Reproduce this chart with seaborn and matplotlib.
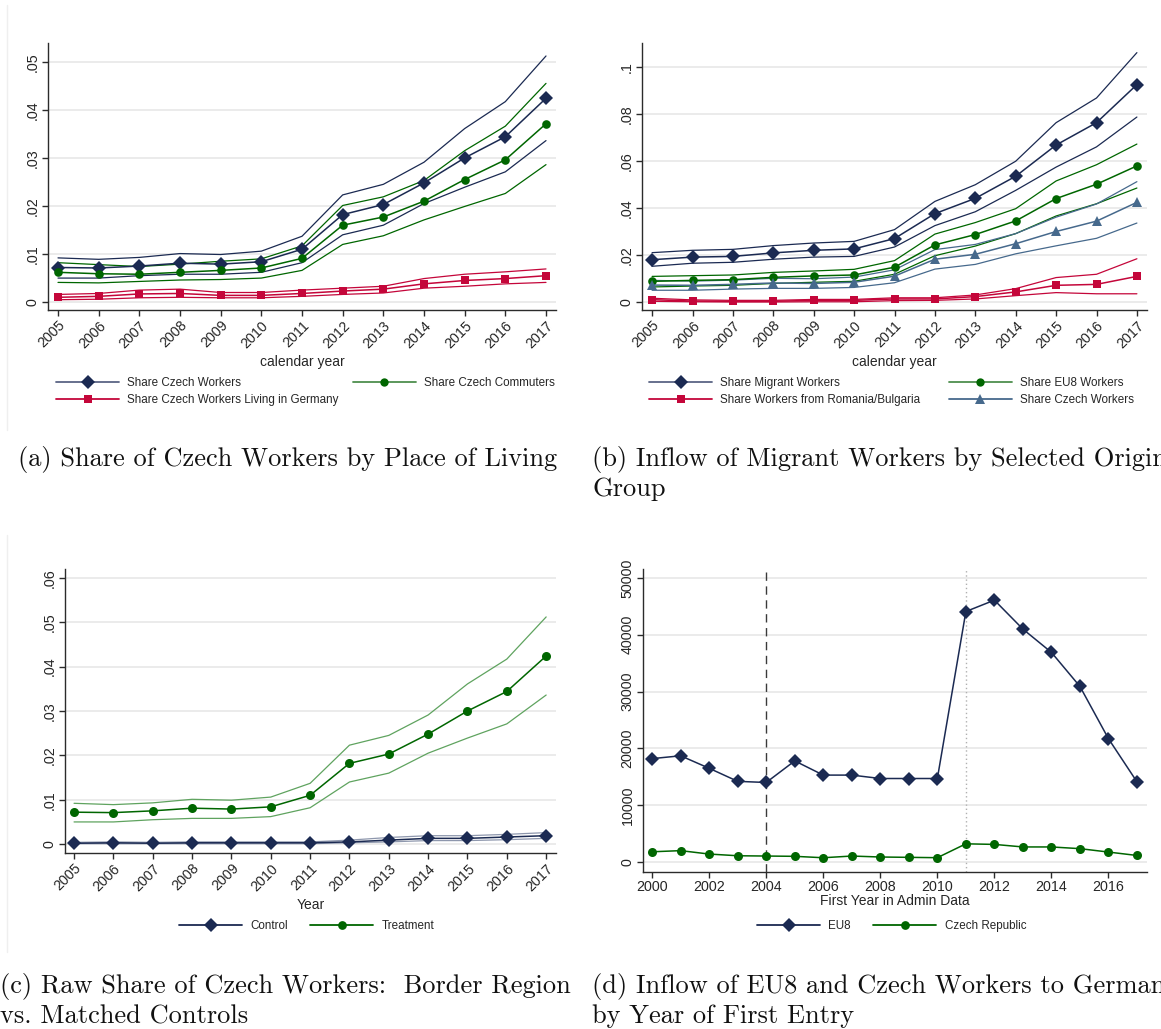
import matplotlib
matplotlib.use("Agg")
import matplotlib.pyplot as plt
from matplotlib.lines import Line2D
from matplotlib.ticker import FixedLocator, FuncFormatter
import seaborn as sns

# ---------------------------------------------------------------- data
years = list(range(2005, 2018))

# (a) shares of Czech workers by place of living, with 95% bands
cz_share = [0.0072, 0.0071, 0.0075, 0.0081, 0.0079, 0.0084, 0.0110, 0.0182, 0.0203, 0.0248, 0.0300, 0.0344, 0.0424]
cz_share_hi = [0.0092, 0.0089, 0.0093, 0.0101, 0.0099, 0.0106, 0.0137, 0.0223, 0.0245, 0.0291, 0.0361, 0.0417, 0.0512]
cz_share_lo = [0.0050, 0.0050, 0.0055, 0.0058, 0.0058, 0.0062, 0.0082, 0.0140, 0.0160, 0.0205, 0.0239, 0.0271, 0.0336]
commuter = [0.0062, 0.0059, 0.0058, 0.0062, 0.0066, 0.0071, 0.0091, 0.0160, 0.0177, 0.0210, 0.0255, 0.0296, 0.0371]
commuter_hi = [0.0082, 0.0078, 0.0074, 0.0079, 0.0085, 0.0090, 0.0117, 0.0201, 0.0219, 0.0253, 0.0315, 0.0366, 0.0455]
commuter_lo = [0.0041, 0.0040, 0.0043, 0.0046, 0.0047, 0.0050, 0.0066, 0.0120, 0.0138, 0.0171, 0.0199, 0.0226, 0.0286]
living_de = [0.0010, 0.0012, 0.0017, 0.0018, 0.0014, 0.0014, 0.0018, 0.0023, 0.0027, 0.0038, 0.0045, 0.0049, 0.0055]
living_de_hi = [0.0016, 0.0018, 0.0025, 0.0027, 0.0020, 0.0020, 0.0025, 0.0029, 0.0033, 0.0049, 0.0058, 0.0063, 0.0069]
living_de_lo = [0.0005, 0.0006, 0.0009, 0.0010, 0.0009, 0.0009, 0.0012, 0.0016, 0.0019, 0.0029, 0.0033, 0.0038, 0.0041]

# (b) inflow of migrant workers by origin group
migrant = [0.0180, 0.0191, 0.0194, 0.0209, 0.0220, 0.0226, 0.0270, 0.0376, 0.0441, 0.0535, 0.0668, 0.0763, 0.0925]
migrant_hi = [0.0210, 0.0220, 0.0224, 0.0240, 0.0251, 0.0258, 0.0308, 0.0428, 0.0499, 0.0599, 0.0763, 0.0868, 0.1061]
migrant_lo = [0.0152, 0.0165, 0.0169, 0.0182, 0.0191, 0.0194, 0.0234, 0.0325, 0.0384, 0.0475, 0.0574, 0.0660, 0.0787]
eu8 = [0.0088, 0.0092, 0.0095, 0.0105, 0.0111, 0.0115, 0.0148, 0.0243, 0.0287, 0.0345, 0.0440, 0.0501, 0.0579]
eu8_hi = [0.0109, 0.0112, 0.0115, 0.0126, 0.0132, 0.0139, 0.0176, 0.0289, 0.0338, 0.0397, 0.0515, 0.0584, 0.0672]
eu8_lo = [0.0064, 0.0068, 0.0071, 0.0079, 0.0084, 0.0088, 0.0118, 0.0197, 0.0238, 0.0291, 0.0366, 0.0418, 0.0485]
robg = [0.0010, 0.0004, 0.0003, 0.0003, 0.0007, 0.0007, 0.0013, 0.0013, 0.0023, 0.0043, 0.0071, 0.0075, 0.0109]
robg_hi = [0.0016, 0.0009, 0.0007, 0.0007, 0.0011, 0.0011, 0.0018, 0.0018, 0.0030, 0.0057, 0.0104, 0.0118, 0.0184]
robg_lo = [0.0003, 0.0001, 0.0000, 0.0000, 0.0001, 0.0001, 0.0006, 0.0007, 0.0013, 0.0027, 0.0040, 0.0035, 0.0035]

# (c) border region (treatment) vs matched controls
treatment = cz_share
treatment_hi = cz_share_hi
treatment_lo = cz_share_lo
control = [0.0002, 0.0003, 0.0002, 0.0003, 0.0003, 0.0003, 0.0003, 0.0005, 0.0009, 0.0013, 0.0013, 0.0016, 0.0019]
control_hi = [0.0004, 0.0005, 0.0004, 0.0005, 0.0005, 0.0005, 0.0005, 0.0009, 0.0015, 0.0019, 0.0019, 0.0022, 0.0026]
control_lo = [0.0001, 0.0001, 0.0001, 0.0001, 0.0001, 0.0001, 0.0001, 0.0003, 0.0005, 0.0008, 0.0008, 0.0010, 0.0013]

# (d) inflow by first year in admin data
entry_years = list(range(2000, 2018))
eu8_inflow = [18200, 18700, 16500, 14200, 14000, 17800, 15300, 15300, 14700, 14700, 14700,
              44100, 46100, 41000, 36900, 30900, 21700, 14100]
cz_inflow = [1800, 2000, 1400, 1100, 1050, 1000, 750, 1050, 880, 820, 760,
             3200, 3100, 2650, 2650, 2350, 1750, 1150]

captions = [
    "(a) Share of Czech Workers by Place of Living",
    "(b) Inflow of Migrant Workers by Selected Origin\nGroup",
    "(c) Raw Share of Czech Workers:  Border Region\nvs. Matched Controls",
    "(d) Inflow of EU8 and Czech Workers to Germany\nby Year of First Entry",
]

# ---------------------------------------------------------------- style
NAVY = "#1b2a52"
GREEN = "#006600"
RED = "#c4063a"
STEEL = "#46698c"
GRID = "#e9e9e9"

sns.set_theme(style="white")
plt.rcParams["font.family"] = ["Liberation Sans", "DejaVu Sans"]

W, H = 1161, 1029
fig = plt.figure(figsize=(W / 100, H / 100), dpi=100)
fig.patch.set_facecolor("white")

TICK_FS = 10.3
LEG_FS = 8.4


def px_axes(left, top, right, bottom):
    return fig.add_axes([left / W, 1 - bottom / H, (right - left) / W, (bottom - top) / H])


def stata_fmt(v, _pos=None):
    if abs(v) < 1e-12:
        return "0"
    s = f"{v:g}"
    return s[1:] if s.startswith("0.") else s


def style_axes(ax, yticks, xticks, xrot=45, yfmt=stata_fmt):
    ax.set_facecolor("white")
    for side in ("top", "right"):
        ax.spines[side].set_visible(False)
    for side in ("left", "bottom"):
        ax.spines[side].set_color("#2b2b2b")
        ax.spines[side].set_linewidth(1.0)
    ax.yaxis.set_major_locator(FixedLocator(yticks))
    ax.yaxis.set_major_formatter(FuncFormatter(yfmt))
    ax.xaxis.set_major_locator(FixedLocator(xticks))
    ax.grid(axis="y", color=GRID, lw=1.3)
    ax.grid(axis="x", visible=False)
    ax.set_axisbelow(True)
    ax.tick_params(axis="both", direction="out", length=4, width=1.0,
                   color="#2b2b2b", labelsize=TICK_FS, pad=2, bottom=True, left=True)
    for lab in ax.get_yticklabels():
        lab.set_rotation(90)
        lab.set_va("center")
    if xrot:
        for lab in ax.get_xticklabels():
            lab.set_rotation(xrot)
            lab.set_ha("right")
            lab.set_rotation_mode("anchor")


def band(ax, x, lo, hi, color, lw=0.9, alpha=1.0):
    sns.lineplot(x=x, y=hi, ax=ax, color=color, lw=lw, alpha=alpha, legend=False)
    sns.lineplot(x=x, y=lo, ax=ax, color=color, lw=lw, alpha=alpha, legend=False)


def series(ax, x, y, color, marker, ms, lw=1.1):
    sns.lineplot(x=x, y=y, ax=ax, color=color, lw=lw, marker=marker, markersize=ms,
                 markeredgewidth=0, legend=False)


def key(color, marker, ms, lcolor=None):
    return Line2D([], [], color=lcolor or color, lw=1.3, marker=marker, markersize=ms,
                  markerfacecolor=color, markeredgewidth=0)


def add_legend(handles, labels, x, y, ncol, colspace):
    fig.legend(handles, labels, loc="center left", bbox_to_anchor=(x / W, 1 - y / H),
               ncol=ncol, frameon=False, fontsize=LEG_FS, handlelength=5.4,
               handletextpad=0.72, columnspacing=colspace, labelspacing=0.45,
               borderpad=0, borderaxespad=0, numpoints=1)


# ---------------------------------------------------------------- (a)
ax = px_axes(48, 43, 556, 310)
band(ax, years, cz_share_lo, cz_share_hi, NAVY)
band(ax, years, commuter_lo, commuter_hi, GREEN)
band(ax, years, living_de_lo, living_de_hi, RED)
series(ax, years, cz_share, NAVY, "D", 7.3)
series(ax, years, commuter, GREEN, "o", 6.2)
series(ax, years, living_de, RED, "s", 5.8)
ax.set_xlim(2004.754, 2017.246)
ax.set_ylim(-0.00164, 0.0539)
style_axes(ax, [0, 0.01, 0.02, 0.03, 0.04, 0.05], years)
ax.set_xlabel("calendar year", fontsize=10, labelpad=3)
ax.set_ylabel("")
add_legend([key(NAVY, "D", 7, "#5a6585"), key(RED, "s", 6), key(GREEN, "o", 6, "#4e8f4e")],
           ["Share Czech Workers", "Share Czech Workers Living in Germany", "Share Czech Commuters"],
           56, 391.5, 2, 1.2)

# ---------------------------------------------------------------- (b)
ax = px_axes(642, 43, 1147, 310)
band(ax, years, migrant_lo, migrant_hi, NAVY)
band(ax, years, eu8_lo, eu8_hi, GREEN)
band(ax, years, robg_lo, robg_hi, RED)
band(ax, years, cz_share_lo, cz_share_hi, STEEL)
series(ax, years, migrant, NAVY, "D", 7.3)
series(ax, years, eu8, GREEN, "o", 6.2)
series(ax, years, robg, RED, "s", 5.8)
series(ax, years, cz_share, STEEL, "^", 6.8)
ax.set_xlim(2004.75, 2017.25)
ax.set_ylim(-0.0034, 0.1102)
style_axes(ax, [0, 0.02, 0.04, 0.06, 0.08, 0.1], years)
ax.set_xlabel("calendar year", fontsize=10, labelpad=3)
ax.set_ylabel("")
add_legend([key(NAVY, "D", 7, "#5a6585"), key(RED, "s", 6), key(GREEN, "o", 6, "#4e8f4e"),
            key(STEEL, "^", 6.5)],
           ["Share Migrant Workers", "Share Workers from Romania/Bulgaria",
            "Share EU8 Workers", "Share Czech Workers"],
           649, 391.5, 2, 2.4)

# ---------------------------------------------------------------- (c)
ax = px_axes(65, 569, 556, 853)
band(ax, years, control_lo, control_hi, "#8e97ad", lw=0.9)
band(ax, years, treatment_lo, treatment_hi, "#5fa35f", lw=0.9)
series(ax, years, control, NAVY, "D", 7.3)
series(ax, years, treatment, GREEN, "o", 6.5)
ax.set_xlim(2004.77, 2017.25)
ax.set_ylim(-0.002, 0.062)
style_axes(ax, [0, 0.01, 0.02, 0.03, 0.04, 0.05, 0.06], years)
ax.set_xlabel("Year", fontsize=10, labelpad=3)
ax.set_ylabel("")
add_legend([key(NAVY, "D", 7), key(GREEN, "o", 6.3)], ["Control", "Treatment"],
           179, 926, 2, 1.9)

# ---------------------------------------------------------------- (d)
ax = px_axes(643, 569, 1147, 872)
ax.axvline(2004, color="#3a3a3a", lw=1.0, dashes=(6, 4), zorder=1)
ax.axvline(2011, color="#b0b0b0", lw=1.0, ls=(0, (1, 2)), zorder=1)
series(ax, entry_years, eu8_inflow, NAVY, "D", 7)
series(ax, entry_years, cz_inflow, GREEN, "o", 6.5)
ax.set_xlim(1999.68, 2017.35)
ax.set_ylim(-1760, 51585)
style_axes(ax, [0, 10000, 20000, 30000, 40000, 50000], list(range(2000, 2018, 2)), xrot=0,
           yfmt=lambda v, _p=None: f"{int(v)}")
ax.set_xlabel("First Year in Admin Data", fontsize=10, labelpad=0)
ax.set_ylabel("")
add_legend([key(NAVY, "D", 7), key(GREEN, "o", 6.3)], ["EU8", "Czech Republic"],
           757, 926, 2, 1.9)

# faint outer frames of the left-hand graphs
for y0, y1 in ((5, 430), (535, 952)):
    fig.add_artist(Line2D([7 / W, 7 / W], [1 - y0 / H, 1 - y1 / H], color="#efefef", lw=1.0))

# ---------------------------------------------------------------- captions
cap_pos = [(18, 446), (592, 446), (0, 973), (592, 973)]
for (cx, cy), text in zip(cap_pos, captions):
    fig.text(cx / W, 1 - cy / H, text, family="cmr10", fontsize=19, ha="left", va="top",
             linespacing=1.25, color="#111111")

fig.savefig("out.png", dpi=100, facecolor="white")
